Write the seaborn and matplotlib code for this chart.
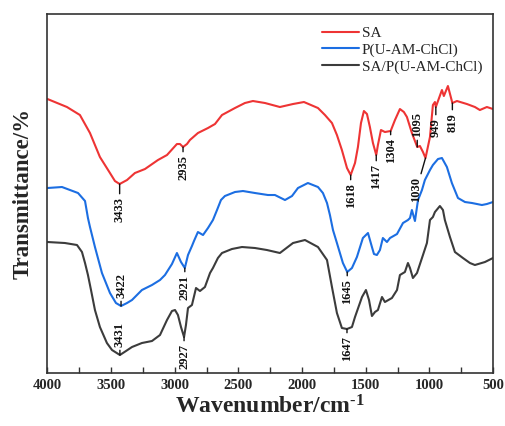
import numpy as np
import pandas as pd
import matplotlib
matplotlib.use('Agg')
import matplotlib.pyplot as plt
import seaborn as sns
from matplotlib.ticker import MultipleLocator

series_names = ['SA', 'P(U-AM-ChCl)', 'SA/P(U-AM-ChCl)']

red_wn = [4000, 3847, 3745, 3666, 3588, 3509, 3470, 3433, 3375, 3313,
          3234, 3132, 3061, 2983, 2959, 2935, 2904, 2881, 2818, 2739,
          2684, 2629, 2527, 2449, 2386, 2291, 2174, 2071, 1985, 1875,
          1820, 1765, 1726, 1687, 1647, 1618, 1584, 1561, 1537, 1514,
          1490, 1467, 1443, 1417, 1404, 1380, 1349, 1304, 1270, 1231,
          1200, 1176, 1137, 1095, 1074, 1050, 1030, 995, 972, 956,
          949, 901, 886, 854, 819, 783, 705, 642, 603, 548, 500]
red_T = [274, 266, 258, 240, 216, 200, 192, 189, 193, 200,
         204, 213, 218, 229, 229, 226, 229, 233, 240, 245,
         249, 258, 265, 270, 272, 270, 266, 269, 271, 265,
         258, 250, 238, 223, 205, 198, 210, 226, 250, 262,
         259, 246, 230, 218, 228, 243, 241, 242, 253, 264,
         261, 256, 240, 226, 227, 221, 215, 236, 268, 271,
         266, 283, 277, 287, 270, 272, 269, 266, 263, 266, 264]

blue_wn = [4000, 3886, 3760, 3705, 3682, 3666, 3627, 3572, 3509, 3462,
           3422, 3375, 3336, 3258, 3179, 3116, 3077, 3022, 2983, 2951,
           2921, 2896, 2865, 2849, 2818, 2778, 2739, 2700, 2668, 2637,
           2606, 2527, 2464, 2370, 2268, 2213, 2134, 2079, 2032, 1954,
           1875, 1836, 1804, 1781, 1757, 1726, 1679, 1645, 1608, 1569,
           1522, 1482, 1451, 1435, 1412, 1388, 1365, 1333, 1309, 1254,
           1207, 1168, 1152, 1137, 1113, 1089, 1058, 1035, 995, 972,
           932, 901, 862, 823, 775, 720, 665, 587, 548, 500]
blue_T = [185, 186, 180, 172, 155, 146, 126, 100, 80, 70,
          67, 70, 73, 83, 88, 93, 98, 109, 120, 111,
          105, 118, 127, 132, 141, 138, 145, 153, 163, 173,
          177, 181, 182, 180, 178, 178, 173, 177, 185, 190,
          186, 180, 170, 158, 143, 130, 110, 101, 105, 116,
          135, 140, 126, 119, 118, 123, 135, 131, 135, 139,
          150, 153, 155, 163, 152, 173, 183, 193, 203, 208,
          214, 215, 206, 190, 175, 171, 170, 168, 169, 171]

black_wn = [4000, 3863, 3768, 3729, 3705, 3682, 3658, 3627, 3588, 3533,
            3493, 3431, 3383, 3336, 3258, 3179, 3116, 3061, 3022, 2998,
            2975, 2951, 2927, 2912, 2896, 2865, 2833, 2802, 2763, 2723,
            2700, 2661, 2629, 2551, 2472, 2370, 2276, 2174, 2071, 1977,
            1875, 1804, 1765, 1726, 1687, 1647, 1608, 1584, 1529, 1498,
            1474, 1451, 1427, 1404, 1372, 1349, 1294, 1254, 1231, 1192,
            1168, 1152, 1129, 1097, 1050, 1019, 995, 972, 956, 917,
            893, 878, 838, 799, 736, 681, 642, 563, 500]
black_T = [131, 130, 128, 121, 110, 98, 83, 63, 46, 30,
           23, 18, 22, 26, 30, 32, 38, 53, 62, 63,
           58, 46, 36, 48, 65, 68, 85, 82, 86, 100,
           105, 115, 120, 124, 126, 125, 123, 120, 130, 133,
           126, 113, 86, 60, 45, 44, 46, 56, 76, 83,
           73, 57, 61, 63, 76, 71, 75, 83, 98, 101,
           110, 105, 95, 100, 118, 130, 153, 156, 161, 167,
           163, 153, 136, 121, 115, 110, 108, 111, 115]

red_peaks = [3433, 2935, 1618, 1417, 1304, 1095, 1030, 949, 819]
blue_peaks = [3422, 2921, 1645]
black_peaks = [3431, 2927, 1647]

x_ticks = [4000, 3500, 3000, 2500, 2000, 1500, 1000, 500]

colors = ['#ee3434', '#1c6ee2', '#3c3c3c']

sns.set_style('white')
plt.rcParams['font.family'] = ['Liberation Serif', 'DejaVu Serif']
plt.rcParams['mathtext.fontset'] = 'custom'
plt.rcParams['mathtext.rm'] = 'Liberation Serif:bold'
plt.rcParams['mathtext.bf'] = 'Liberation Serif:bold'
plt.rcParams['mathtext.default'] = 'bf'

wns = [red_wn, blue_wn, black_wn]
Ts = [red_T, blue_T, black_T]
frames = [pd.DataFrame({'Wavenumber': w, 'T': t, 'Sample': n})
          for n, w, t in zip(series_names, wns, Ts)]
df = pd.concat(frames, ignore_index=True)

fig = plt.figure(figsize=(5.05, 4.26), dpi=100)
ax = fig.add_axes([0.094, 0.1244, 0.8822, 0.8427])
sns.lineplot(data=df, x='Wavenumber', y='T', hue='Sample', hue_order=series_names,
             palette=colors, ax=ax, lw=1.5, sort=False, estimator=None, legend=False)

ax.set_xlim(4000, 500)
ax.set_ylim(0, 359)
ax.set_xticks(x_ticks)
ax.set_xticklabels([str(v) for v in x_ticks], fontweight='bold', fontsize=10.5)
ax.xaxis.set_minor_locator(MultipleLocator(250))
ax.tick_params(axis='x', which='both', direction='in', length=4, width=1,
               bottom=True, top=False, color='#333333', pad=4)
ax.set_yticks([])
for s in ax.spines.values():
    s.set_color('#333333')
    s.set_linewidth(1.2)

ax.set_xlabel('Wavenumber/cm$^{\\text{-}1}$', fontsize=17, fontweight='bold', labelpad=3)
ax.set_ylabel('Transmittance/%', fontsize=16.5, fontweight='bold', labelpad=10)

lines = ax.get_lines()
ax.legend(lines[:3], series_names, loc='upper right', frameon=False, fontsize=11,
          handlelength=2.4, handletextpad=0.2, labelspacing=0.2,
          borderaxespad=0.4, bbox_to_anchor=(1.003, 1.0))

# annotation layout: (dx, dy) offsets in pixels, va
red_off = [(0, -13, 'top'), (0, -8, 'top'), (0, -8, 'top'), (0, -9, 'top'),
           (0, -7, 'top'), (0, 10, 'bottom'), (-9, -19, 'top'),
           (0, -11, 'top'), (0, -10, 'top')]
blue_off = [(0, 8, 'bottom'), (0, -7, 'top'), (0, -7, 'top')]
black_off = [(0, 8, 'bottom'), (0, -7, 'top'), (0, -7, 'top')]

for wn, t, peaks, offs in zip(wns, Ts, [red_peaks, blue_peaks, black_peaks],
                              [red_off, blue_off, black_off]):
    xs = np.array(wn[::-1], dtype=float)
    ys = np.array(t[::-1], dtype=float)
    for p, (dx, dy, va) in zip(peaks, offs):
        yv = np.interp(p, xs, ys)
        ax.annotate(str(p), xy=(p, yv), xytext=(dx, dy), textcoords='offset pixels',
                    rotation=90, ha='center', va=va, fontsize=9, fontweight='bold',
                    color='#111111',
                    arrowprops=dict(arrowstyle='-', color='#111111', lw=1.0,
                                    shrinkA=0, shrinkB=0))

fig.savefig('out.png', dpi=100)
